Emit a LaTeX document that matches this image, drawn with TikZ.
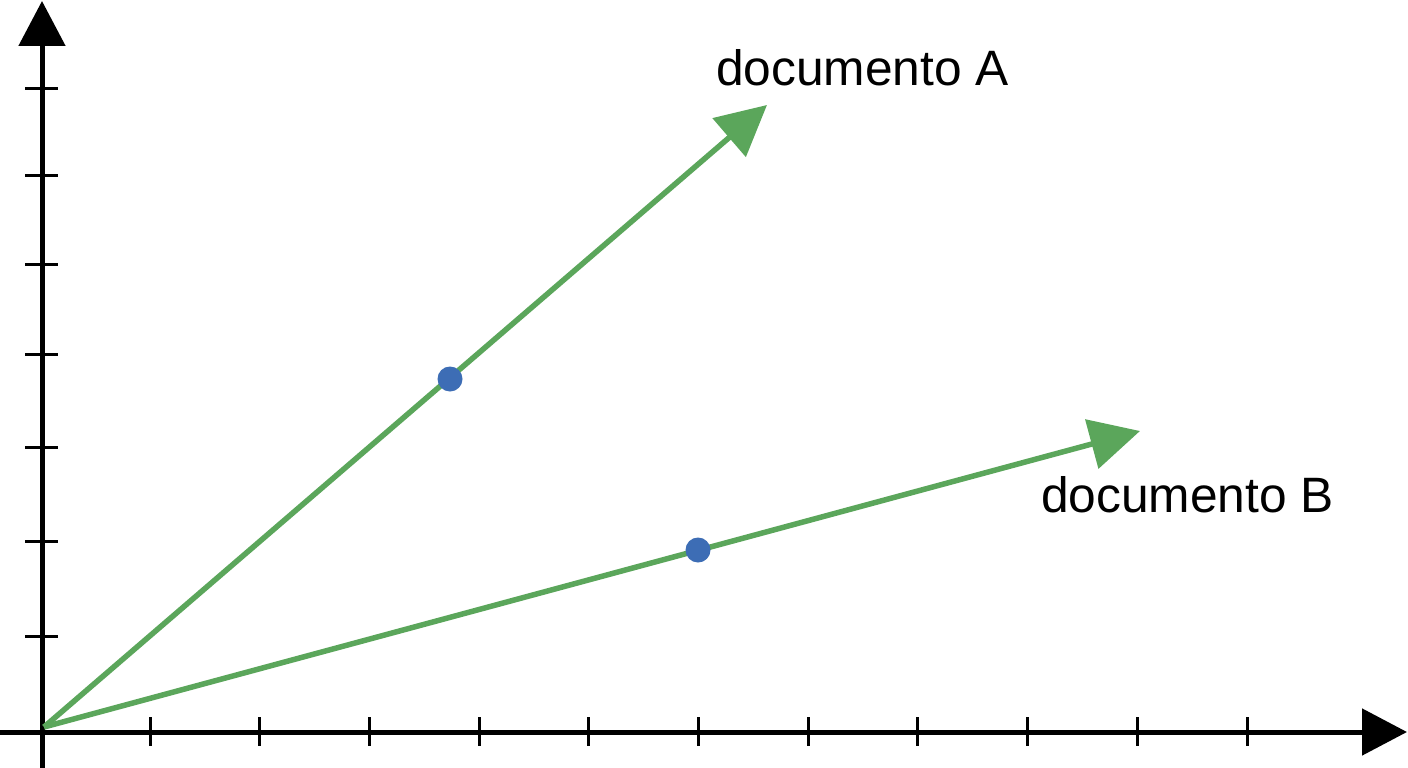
\documentclass[tikz,border=0pt]{standalone}
\usepackage{fontspec}
\setmainfont{Liberation Sans}
\usetikzlibrary{arrows.meta}
\definecolor{vecgreen}{HTML}{5BA65B}
\definecolor{dotblue}{HTML}{3D6DB5}
\tikzset{
  axisline/.style={line width=5pt, black, -{Triangle[length=45pt,width=46pt]}},
  tickmark/.style={line width=3pt, black},
  vecline/.style={line width=5.5pt, vecgreen, -{Triangle[length=50pt,width=50pt]}},
  vdot/.style={circle, fill=dotblue, inner sep=0pt, minimum size=25pt},
  lbl/.style={inner sep=0pt, font=\fontsize{49.7}{58}\selectfont}
}
\begin{document}
\begin{tikzpicture}[x=1pt,y=-1pt]
\useasboundingbox (0,0) rectangle (1408,768);
\fill[white] (0,0) rectangle (1408,768);
\coordinate (ybot) at (42,768);
\coordinate (ytop) at (42,1);
\coordinate (xleft) at (0,732);
\coordinate (xright) at (1407,732);
\draw[axisline] (ybot) -- (ytop);
\draw[axisline] (xleft) -- (xright);
\foreach \x in {150,259.7,369.4,479.1,588.8,698.5,808.2,917.9,1027.6,1137.3,1247} {
  \draw[tickmark] (\x,717) -- (\x,746);
}
\foreach \y in {636,541,447,354,264,175,88} {
  \draw[tickmark] (25,\y) -- (58,\y);
}
\coordinate (O) at (44,727);
\coordinate (tipA) at (767,105);
\coordinate (tipB) at (1140,431);
\draw[vecline] (O) -- (tipA);
\draw[vecline] (O) -- (tipB);
\node[vdot] (dA) at (450,379) {};
\node[vdot] (dB) at (698,550) {};
\node[lbl, anchor=base west] (labA) at (716,85) {documento A};
\node[lbl, anchor=base west] (labB) at (1041,512) {documento B};
\end{tikzpicture}
\end{document}
